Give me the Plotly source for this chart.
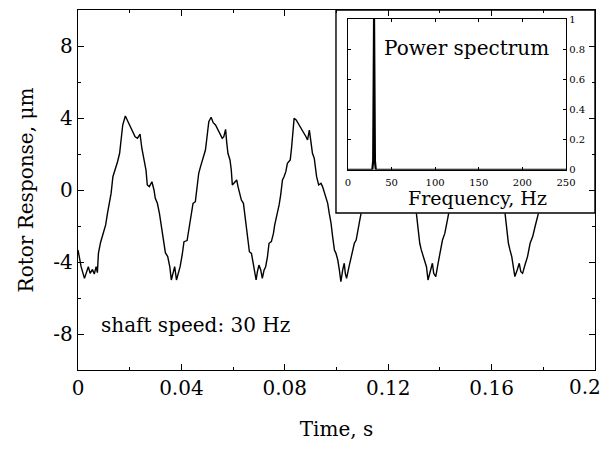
import plotly.graph_objects as go

# ---- main time trace (visible parts only; the rest is hidden by the inset) ----
t_s = [0.0000, 0.0012, 0.0025, 0.0034, 0.0040, 0.0047, 0.0056, 0.0063, 0.0070, 0.0075,
       0.0079, 0.0087, 0.0096, 0.0107, 0.0114, 0.0120, 0.0128, 0.0135, 0.0144, 0.0153,
       0.0161, 0.0167, 0.0173, 0.0183, 0.0192, 0.0202, 0.0211, 0.0221, 0.0230, 0.0240,
       0.0247, 0.0255, 0.0263, 0.0268, 0.0276, 0.0286, 0.0294, 0.0299, 0.0307, 0.0315,
       0.0322, 0.0330, 0.0338, 0.0347, 0.0355, 0.0361, 0.0369, 0.0374, 0.0381, 0.0387,
       0.0395, 0.0403, 0.0410, 0.0422, 0.0431, 0.0439,
       0.0445, 0.0454, 0.0461, 0.0467, 0.0474, 0.0484, 0.0493, 0.0500, 0.0506, 0.0515,
       0.0523, 0.0532, 0.0541, 0.0549, 0.0558, 0.0564, 0.0571, 0.0575, 0.0580, 0.0588,
       0.0593, 0.0597, 0.0603, 0.0614, 0.0619, 0.0627, 0.0632, 0.0640, 0.0645, 0.0652,
       0.0658, 0.0663, 0.0671, 0.0677, 0.0683, 0.0689, 0.0694, 0.0700, 0.0707, 0.0713,
       0.0720, 0.0726, 0.0733, 0.0739, 0.0748, 0.0756, 0.0761, 0.0769, 0.0778, 0.0784,
       0.0791, 0.0797, 0.0804, 0.0810, 0.0821, 0.0826, 0.0831, 0.0836, 0.0844, 0.0852,
       0.0862, 0.0873, 0.0882, 0.0888,
       0.0895, 0.0901, 0.0907, 0.0914, 0.0918, 0.0923, 0.0931, 0.0940, 0.0946, 0.0953,
       0.0959, 0.0966, 0.0972, 0.0979, 0.0985, 0.0992, 0.0998, 0.1005, 0.1011, 0.1017,
       0.1024, 0.1030, 0.1034, 0.1039, 0.1047, 0.1056, 0.1063, 0.1069, 0.1076, 0.1082,
       0.1089, 0.1095,
       None,
       0.1309, 0.1315, 0.1322, 0.1328, 0.1335, 0.1341, 0.1348, 0.1354, 0.1363, 0.1371,
       0.1376, 0.1384, 0.1393, 0.1402, 0.1410, 0.1419, 0.1428, 0.1434,
       None,
       0.1652, 0.1658, 0.1665, 0.1671, 0.1678, 0.1684, 0.1690, 0.1699, 0.1707, 0.1713,
       0.1720, 0.1729, 0.1739, 0.1749, 0.1759, 0.1768, 0.1781]

resp_um = [-3.33, -4.26, -4.91, -4.54, -4.26, -4.63, -4.41, -4.67, -4.26, -4.59,
           -3.52, -2.93, -2.41, -1.94, -1.30, -0.74, -0.19, 0.74, 1.11, 1.57,
           2.04, 2.96, 3.61, 4.11, 3.85, 3.56, 3.24, 2.96, 2.87, 3.11,
           2.32, 1.67, 1.11, 0.28, 0.19, 0.46, 0.00, -0.46, -0.74, -1.30,
           -2.04, -2.78, -3.48, -3.70, -4.26, -5.00, -4.63, -4.26, -5.00, -4.72,
           -4.26, -3.61, -2.87, -2.81, -2.04, -1.48,
           -0.74, -0.65, 0.37, 0.93, 1.30, 1.76, 2.22, 3.06, 3.80, 4.04,
           3.74, 3.61, 3.33, 3.15, 2.87, 2.96, 3.37, 2.69, 2.04, 1.67,
           1.11, 0.28, 0.37, 0.56, 0.19, -0.37, -0.56, -0.74, -1.30, -2.04,
           -2.59, -3.43, -3.52, -4.07, -4.63, -5.00, -4.54, -4.17, -4.44, -4.91,
           -4.44, -4.26, -3.70, -2.96, -2.87, -2.41, -1.94, -1.48, -0.83, -0.28,
           0.56, 0.74, 1.02, 1.48, 1.67, 2.32, 3.15, 3.98, 3.89, 3.70,
           3.43, 3.24, 2.96, 2.78,
           3.33, 2.69, 2.04, 1.76, 1.30, 0.74, 0.28, 0.37, 0.19, -0.19,
           -0.46, -0.74, -1.30, -1.85, -2.59, -3.33, -3.52, -3.89, -4.44, -5.09,
           -4.44, -4.07, -4.63, -4.91, -4.35, -3.70, -3.33, -2.96, -2.78, -2.22,
           -1.76, -1.30,
           None,
           -1.30, -2.22, -2.96, -3.33, -3.70, -3.89, -4.26, -5.00, -4.44, -4.07,
           -4.63, -4.81, -4.07, -3.33, -2.78, -2.41, -1.85, -1.30,
           None,
           -1.30, -2.22, -2.96, -3.33, -3.70, -4.26, -4.81, -4.44, -4.07, -4.54,
           -4.63, -4.17, -3.70, -2.96, -2.59, -2.04, -1.30]

# ---- inset power spectrum ----
freq_hz = [0, 28, 29, 30, 31, 32, 250]
power = [0, 0, 0.06, 1.0, 0.06, 0, 0]

# ---- tick labels ----
x_tick_vals = [0, 0.04, 0.08, 0.12, 0.16, 0.2]
x_tick_text = ["0", "0.04", "0.08", "0.12", "0.16", "0.2"]
y_tick_vals = [-8, -4, 0, 4, 8]
y_tick_text = ["-8", "-4", "0", "4", "8"]
f_tick_vals = [0, 50, 100, 150, 200, 250]
f_tick_text = ["0", "50", "100", "150", "200", "250"]
p_tick_vals = [0, 0.2, 0.4, 0.6, 0.8, 1.0]
p_tick_text = ["0", "0.2", "0.4", "0.6", "0.8", "1"]

FONT = "DejaVu Serif"

# last x tick label sits at the right edge of the figure; it is drawn as an
# annotation nudged inward so that it is not clipped by the page edge
shown_x_text = x_tick_text[:-1] + [""]

fig = go.Figure()
fig.add_trace(go.Scatter(x=t_s, y=resp_um, mode="lines", connectgaps=False,
                         line=dict(color="black", width=1.4),
                         xaxis="x", yaxis="y", showlegend=False, hoverinfo="skip"))
fig.add_trace(go.Scatter(x=freq_hz, y=power, mode="lines",
                         line=dict(color="black", width=2.2),
                         xaxis="x2", yaxis="y2", showlegend=False, hoverinfo="skip"))

axis_common = dict(showline=True, linecolor="black", linewidth=1.4, mirror="ticks",
                   ticks="inside", tickcolor="black", showgrid=False, zeroline=False,
                   automargin=False)

fig.update_layout(
    width=610, height=460,
    margin=dict(l=78, r=15, t=10, b=90, autoexpand=False),
    paper_bgcolor="white", plot_bgcolor="white",
    font=dict(family=FONT, color="black"),
    xaxis=dict(domain=[0, 1], range=[0, 0.2], anchor="y",
               tickvals=x_tick_vals, ticktext=shown_x_text, ticklen=6, tickwidth=1,
               minor=dict(dtick=0.02, tick0=0, ticks="inside", ticklen=3, tickcolor="black"),
               tickfont=dict(size=20, family=FONT),
               title=dict(text="Time, s", font=dict(size=20, family=FONT), standoff=22),
               **axis_common),
    yaxis=dict(domain=[0, 1], range=[-10, 10], anchor="x",
               tickvals=y_tick_vals, ticktext=y_tick_text, ticklen=6, tickwidth=1,
               minor=dict(dtick=2, tick0=0, ticks="inside", ticklen=3, tickcolor="black"),
               tickfont=dict(size=20, family=FONT),
               title=dict(text="Rotor Response, μm", font=dict(size=20, family=FONT), standoff=14),
               **axis_common),
    xaxis2=dict(domain=[0.522, 0.944], range=[0, 250], anchor="y2",
                tickvals=f_tick_vals, ticktext=f_tick_text, ticklen=3, tickwidth=1,
                tickfont=dict(size=10, family=FONT), ticklabelstandoff=3,
                **axis_common),
    yaxis2=dict(domain=[0.556, 0.975], range=[0, 1], anchor="x2", side="right",
                tickvals=p_tick_vals, ticktext=p_tick_text, ticklen=3, tickwidth=1,
                tickfont=dict(size=10, family=FONT),
                **axis_common),
    shapes=[dict(type="rect", xref="paper", yref="paper", x0=0.499, x1=1.0, y0=0.436, y1=1.0,
                 line=dict(color="black", width=1.4), fillcolor="rgba(0,0,0,0)", layer="above")],
    annotations=[
        dict(text=x_tick_text[-1], xref="x", yref="paper", x=x_tick_vals[-1], y=0,
             xanchor="right", yanchor="top", xshift=8, yshift=-3, showarrow=False,
             font=dict(size=20, family=FONT)),
        dict(text="Power spectrum", xref="x2", yref="y2", x=136, y=0.81, showarrow=False,
             font=dict(size=20, family=FONT)),
        dict(text="Frequency, Hz", xref="x2", yref="paper", x=149, y=0.478, showarrow=False,
             font=dict(size=19, family=FONT)),
        dict(text="shaft speed: 30 Hz", xref="x", yref="y", x=0.0454, y=-7.5, showarrow=False,
             font=dict(size=20, family=FONT)),
    ],
)

fig.write_html("out.html")
